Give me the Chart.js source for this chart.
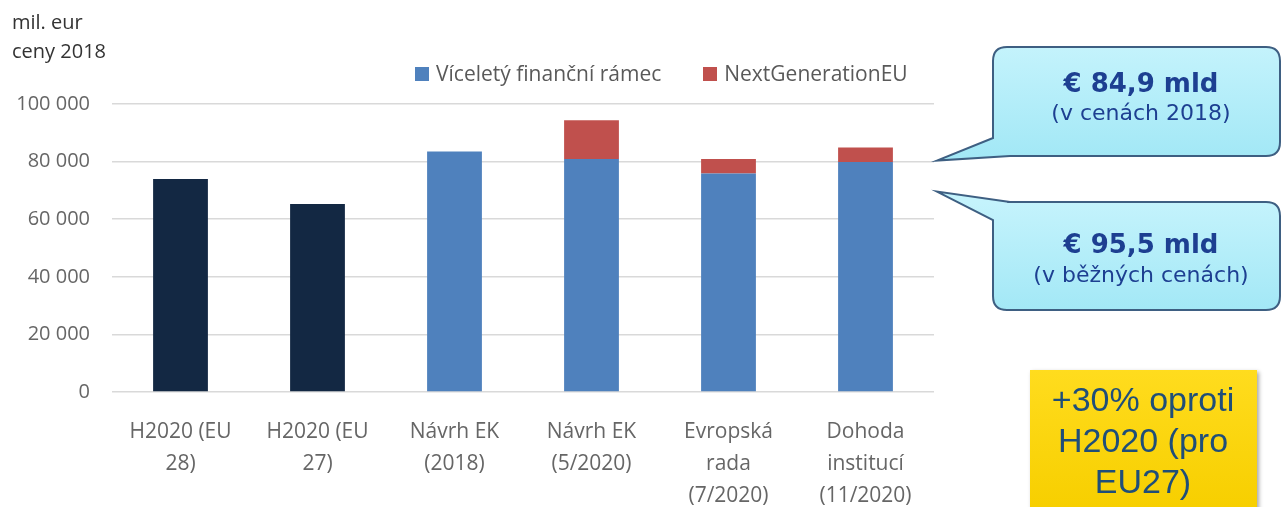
<!DOCTYPE html>
<html>
<head>
<meta charset="utf-8">
<script src="https://cdn.jsdelivr.net/npm/chart.js@4.4.1/dist/chart.umd.min.js"></script>
<style>
  body { margin: 0; background: #fff; }
  #wrap { position: relative; width: 1282px; height: 507px; overflow: hidden; }
  #unit { position: absolute; left: 12px; top: 7px; font: 20px "Open Sans", sans-serif; color: #333; line-height: 29px; }
  #legend { position: absolute; left: 415px; top: 59px; font: 21px "Open Sans", sans-serif; color: #595959; display: flex; gap: 42px; line-height: 28px; }
  #legend span.sw { display: inline-block; width: 14px; height: 14px; margin-right: 7px; vertical-align: 0px; }
</style>
</head>
<body>
<div id="wrap">
  <canvas id="chart" width="1282" height="507"></canvas>
  <div id="unit">mil. eur<br>ceny 2018</div>
  <div id="legend"></div>
</div>
<script>
const categories = [
  ['H2020 (EU', '28)'],
  ['H2020 (EU', '27)'],
  ['Návrh EK', '(2018)'],
  ['Návrh EK', '(5/2020)'],
  ['Evropská', 'rada', '(7/2020)'],
  ['Dohoda', 'institucí', '(11/2020)'],
];
const mffValues = [74000, 65300, 83500, 80900, 75900, 79900];
const ngeuValues = [0, 0, 0, 13500, 5000, 5000];
const seriesNames = ['Víceletý finanční rámec', 'NextGenerationEU'];
const yTicks = [0, 20000, 40000, 60000, 80000, 100000];

const navy = '#132843';
const blue = '#4f81bd';
const red = '#c0504d';

const fmt = v => String(v).replace(/\B(?=(\d{3})+(?!\d))/g, ' ');

// callouts + yellow note drawn after the chart
const notes = {
  id: 'notes',
  afterDraw(chart) {
    const ctx = chart.ctx;
    const y80 = chart.scales.y.getPixelForValue(80000);
    const tipX = chart.chartArea.right + 3;

    const bubble = (top, bottom, tail, lines) => {
      const l = 993, r = 1280, rad = 14;
      ctx.save();
      ctx.beginPath();
      ctx.moveTo(l + rad, top);
      if (tail.side === 'top') {
        ctx.lineTo(tail.a, top);
        ctx.lineTo(tail.x, tail.y);
        ctx.lineTo(l, tail.b);
        ctx.lineTo(l, bottom - rad);
        ctx.quadraticCurveTo(l, bottom, l + rad, bottom);
        ctx.lineTo(r - rad, bottom);
        ctx.quadraticCurveTo(r, bottom, r, bottom - rad);
        ctx.lineTo(r, top + rad);
        ctx.quadraticCurveTo(r, top, r - rad, top);
        ctx.lineTo(tail.a, top);
      } else {
        ctx.lineTo(r - rad, top);
        ctx.quadraticCurveTo(r, top, r, top + rad);
        ctx.lineTo(r, bottom - rad);
        ctx.quadraticCurveTo(r, bottom, r - rad, bottom);
        ctx.lineTo(tail.a, bottom);
        ctx.lineTo(tail.x, tail.y);
        ctx.lineTo(l, tail.b);
        ctx.lineTo(l, top + rad);
        ctx.quadraticCurveTo(l, top, l + rad, top);
      }
      ctx.closePath();
      const g = ctx.createLinearGradient(0, top, 0, bottom);
      g.addColorStop(0, '#c4f3fc');
      g.addColorStop(1, '#a3e8f6');
      ctx.fillStyle = g;
      ctx.fill();
      ctx.lineWidth = 2;
      ctx.strokeStyle = '#3e5f82';
      ctx.stroke();
      ctx.fillStyle = '#1d3f91';
      ctx.textAlign = 'center';
      ctx.textBaseline = 'middle';
      lines.forEach(t => {
        ctx.font = t.font;
        ctx.fillText(t.text, 1141, t.y);
      });
      ctx.restore();
    };

    bubble(47, 156, { side: 'bottom', a: 1010, b: 138, x: tipX, y: y80 - 1 }, [
      { text: '€ 84,9 mld', y: 85, font: 'bold 26px "DejaVu Sans"' },
      { text: '(v cenách 2018)', y: 114, font: '22px "DejaVu Sans"' },
    ]);
    bubble(202, 310, { side: 'top', a: 1010, b: 220, x: tipX, y: y80 + 30 }, [
      { text: '€ 95,5 mld', y: 246, font: 'bold 26px "DejaVu Sans"' },
      { text: '(v běžných cenách)', y: 276, font: '22px "DejaVu Sans"' },
    ]);

    // yellow note
    ctx.save();
    ctx.shadowColor = 'rgba(0,0,0,0.35)';
    ctx.shadowBlur = 4;
    ctx.shadowOffsetX = 2;
    ctx.shadowOffsetY = 2;
    const yg = ctx.createLinearGradient(0, 370, 0, 507);
    yg.addColorStop(0, '#ffdc1e');
    yg.addColorStop(1, '#f7cf00');
    ctx.fillStyle = yg;
    ctx.fillRect(1030, 370, 227, 150);
    ctx.restore();
    ctx.save();
    ctx.fillStyle = '#1f4e79';
    ctx.font = '34px "Liberation Sans"';
    ctx.textAlign = 'center';
    ctx.textBaseline = 'middle';
    ['+30% oproti', 'H2020 (pro', 'EU27)'].forEach((t, i) => ctx.fillText(t, 1143, 402 + i * 41));
    ctx.restore();
  }
};

const chart = new Chart(document.getElementById('chart'), {
  type: 'bar',
  data: {
    labels: categories,
    datasets: [
      {
        label: seriesNames[0],
        data: mffValues,
        backgroundColor: mffValues.map((v, i) => (i < 2 ? navy : blue)),
        legendColor: blue,
      },
      {
        label: seriesNames[1],
        data: ngeuValues,
        backgroundColor: red,
        legendColor: red,
      },
    ],
  },
  options: {
    responsive: false,
    animation: false,
    layout: { padding: { left: 4, right: 348, top: 104, bottom: 0 } },
    datasets: { bar: { categoryPercentage: 1, barPercentage: 0.4 } },
    plugins: { legend: { display: false }, tooltip: { enabled: false } },
    scales: {
      x: {
        stacked: true,
        grid: { display: false },
        border: { display: false },
        ticks: {
          color: '#666',
          font: { family: 'Open Sans', size: 21, lineHeight: 1.52 },
          padding: 16,
          maxRotation: 0,
        },
        afterFit(scale) { scale.height = 115; },
      },
      y: {
        stacked: true,
        min: 0,
        max: 100000,
        afterBuildTicks(scale) { scale.ticks = yTicks.map(v => ({ value: v })); },
        grid: { color: '#d9d9d9', lineWidth: 1.5, drawTicks: false },
        border: { display: false },
        ticks: {
          color: '#666',
          font: { family: 'Open Sans', size: 20 },
          padding: 22,
          callback: v => fmt(v),
        },
        afterFit(scale) { scale.width = 108; },
      },
    },
  },
  plugins: [notes],
});

// html legend from the datasets
document.getElementById('legend').innerHTML = chart.data.datasets
  .map(d => `<div><span class="sw" style="background:${d.legendColor}"></span>${d.label}</div>`)
  .join('');
</script>
</body>
</html>
